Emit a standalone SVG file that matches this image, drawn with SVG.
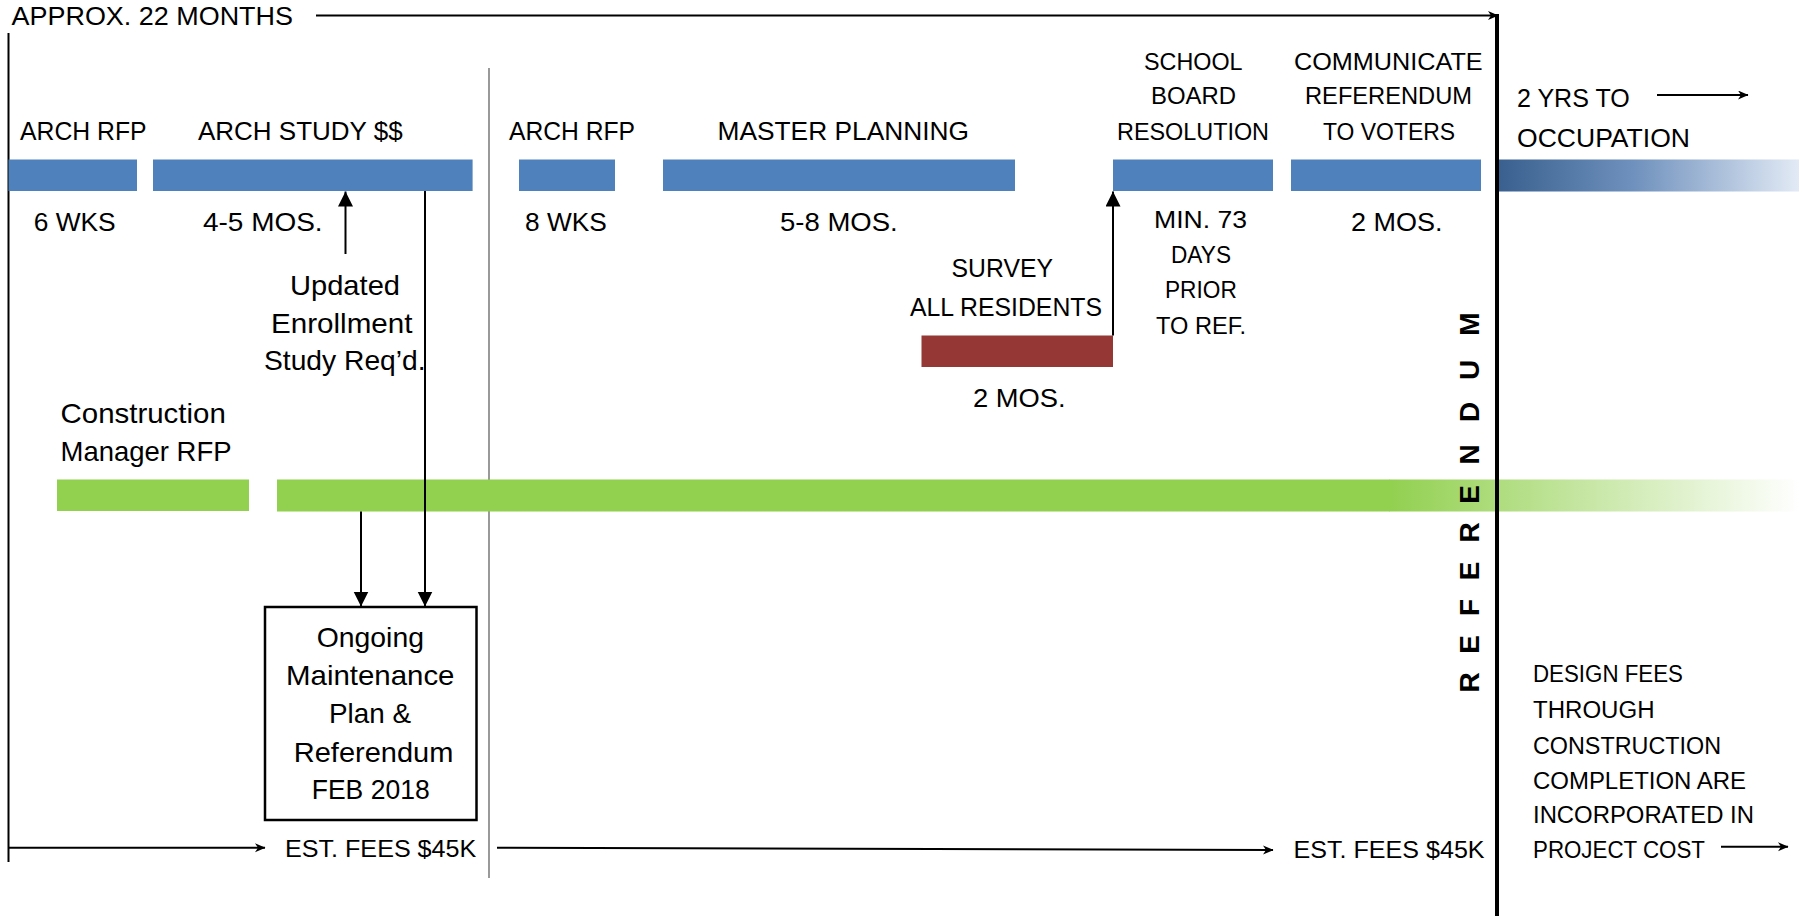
<svg xmlns="http://www.w3.org/2000/svg" width="1799" height="916" viewBox="0 0 1799 916">
<style>
text{font-family:"Liberation Sans",Arial,sans-serif;fill:#000}
.c{font-size:26px}
.s{font-size:24px}
.m{font-size:28px}
.d{font-size:23px}
.v{font-size:28px;font-weight:bold}
.ln{stroke:#000;stroke-width:2;fill:none}
.blue{fill:#4f81bd}
</style>
<defs>
<marker id="sa" markerUnits="userSpaceOnUse" markerWidth="12" markerHeight="10" refX="10" refY="4.5" orient="auto" viewBox="0 0 12 10">
<path d="M0,0 L10.5,4.5 L0,9 L3,4.5 z" fill="#000"/>
</marker>
<marker id="la" markerUnits="userSpaceOnUse" markerWidth="16" markerHeight="16" refX="15" refY="7.5" orient="auto" viewBox="0 0 16 16">
<path d="M0,0 L15,7.5 L0,15 z" fill="#000"/>
</marker>
<linearGradient id="gb" gradientUnits="userSpaceOnUse" x1="1499" y1="0" x2="1799" y2="0">
<stop offset="0" stop-color="#39608f"/>
<stop offset="0.45" stop-color="#6f91bd"/>
<stop offset="1" stop-color="#e2eaf5"/>
</linearGradient>
<linearGradient id="gg" gradientUnits="userSpaceOnUse" x1="1390" y1="0" x2="1799" y2="0">
<stop offset="0" stop-color="#92d050"/>
<stop offset="1" stop-color="#ffffff"/>
</linearGradient>
</defs>
<rect width="1799" height="916" fill="#fff"/>

<g id="frame">
<line x1="8.5" y1="33" x2="8.5" y2="862" class="ln"/>
<line x1="489" y1="68" x2="489" y2="878" stroke="#808080" stroke-width="1.6"/>
</g>

<g id="header">
<text class="c" x="11.5" y="25" textLength="281.5" lengthAdjust="spacingAndGlyphs">APPROX. 22 MONTHS</text>
</g>

<g id="arch-rfp-1">
<rect class="blue" x="8.5" y="159.5" width="128.5" height="31.5"/>
<text class="c" x="20" y="139.5" textLength="126.6" lengthAdjust="spacingAndGlyphs">ARCH RFP</text>
<text class="c" x="33.7" y="230.5" textLength="82" lengthAdjust="spacingAndGlyphs">6 WKS</text>
</g>

<g id="arch-study">
<rect class="blue" x="153" y="159.5" width="319.6" height="31.5"/>
<text class="c" x="198" y="139.5" textLength="204.6" lengthAdjust="spacingAndGlyphs">ARCH STUDY $$</text>
<text class="c" x="203" y="230.5" textLength="119.6" lengthAdjust="spacingAndGlyphs">4-5 MOS.</text>
</g>

<g id="enrollment">
<text class="m" x="290" y="295" textLength="110" lengthAdjust="spacingAndGlyphs">Updated</text>
<text class="m" x="271" y="332.7" textLength="141.5" lengthAdjust="spacingAndGlyphs">Enrollment</text>
<text class="m" x="264" y="370" textLength="161.6" lengthAdjust="spacingAndGlyphs">Study Req’d.</text>
</g>

<g id="arch-rfp-2">
<rect class="blue" x="519" y="159.5" width="96" height="31.5"/>
<text class="c" x="509" y="139.5" textLength="126" lengthAdjust="spacingAndGlyphs">ARCH RFP</text>
<text class="c" x="525" y="230.5" textLength="81.7" lengthAdjust="spacingAndGlyphs">8 WKS</text>
</g>

<g id="master-planning">
<rect class="blue" x="663" y="159.5" width="352" height="31.5"/>
<text class="c" x="717.5" y="139.5" textLength="251.5" lengthAdjust="spacingAndGlyphs">MASTER PLANNING</text>
<text class="c" x="780" y="230.5" textLength="117.7" lengthAdjust="spacingAndGlyphs">5-8 MOS.</text>
</g>

<g id="survey">
<rect x="921.5" y="335.5" width="191.5" height="31.5" fill="#953735"/>
<text class="c" x="951.6" y="276.7" textLength="101.4" lengthAdjust="spacingAndGlyphs">SURVEY</text>
<text class="c" x="910" y="316" textLength="192" lengthAdjust="spacingAndGlyphs">ALL RESIDENTS</text>
<text class="c" x="973" y="406.7" textLength="92.6" lengthAdjust="spacingAndGlyphs">2 MOS.</text>
</g>

<g id="school-board">
<rect class="blue" x="1113" y="159.5" width="160" height="31.5"/>
<text class="s" x="1144" y="70" textLength="98.5" lengthAdjust="spacingAndGlyphs">SCHOOL</text>
<text class="s" x="1151" y="104" textLength="85" lengthAdjust="spacingAndGlyphs">BOARD</text>
<text class="s" x="1117" y="139.5" textLength="152" lengthAdjust="spacingAndGlyphs">RESOLUTION</text>
<text class="s" x="1154" y="228" textLength="93" lengthAdjust="spacingAndGlyphs">MIN. 73</text>
<text class="s" x="1171" y="263" textLength="60" lengthAdjust="spacingAndGlyphs">DAYS</text>
<text class="s" x="1165" y="298" textLength="71.8" lengthAdjust="spacingAndGlyphs">PRIOR</text>
<text class="s" x="1156" y="334" textLength="90" lengthAdjust="spacingAndGlyphs">TO REF.</text>
</g>

<g id="communicate">
<rect class="blue" x="1291" y="159.5" width="190" height="31.5"/>
<text class="s" x="1294" y="70" textLength="188.7" lengthAdjust="spacingAndGlyphs">COMMUNICATE</text>
<text class="s" x="1305" y="104" textLength="167" lengthAdjust="spacingAndGlyphs">REFERENDUM</text>
<text class="s" x="1323" y="139.5" textLength="132" lengthAdjust="spacingAndGlyphs">TO VOTERS</text>
<text class="c" x="1351" y="230.5" textLength="91.5" lengthAdjust="spacingAndGlyphs">2 MOS.</text>
</g>

<g id="occupation">
<rect x="1499" y="159.5" width="300" height="32" fill="url(#gb)"/>
<text class="c" x="1517" y="107" textLength="112.7" lengthAdjust="spacingAndGlyphs">2 YRS TO</text>
<text class="c" x="1517" y="146.7" textLength="173" lengthAdjust="spacingAndGlyphs">OCCUPATION</text>
</g>

<g id="construction-manager">
<rect x="57" y="479.5" width="192" height="31.5" fill="#92d050"/>
<rect x="277" y="479.5" width="1113" height="32" fill="#92d050"/>
<rect x="1389.5" y="479.5" width="409.5" height="32" fill="url(#gg)"/>
<text class="m" x="60.5" y="422.7" textLength="165.3" lengthAdjust="spacingAndGlyphs">Construction</text>
<text class="m" x="60.5" y="460.7" textLength="171" lengthAdjust="spacingAndGlyphs">Manager RFP</text>
</g>

<g id="maintenance-plan">
<rect x="265" y="607" width="211.5" height="213" fill="#fff" stroke="#000" stroke-width="2.5"/>
<text class="m" x="316.7" y="646.7" textLength="107.3" lengthAdjust="spacingAndGlyphs">Ongoing</text>
<text class="m" x="286" y="685" textLength="168.5" lengthAdjust="spacingAndGlyphs">Maintenance</text>
<text class="m" x="329" y="722.7" textLength="82" lengthAdjust="spacingAndGlyphs">Plan &amp;</text>
<text class="m" x="293.8" y="761.7" textLength="159.5" lengthAdjust="spacingAndGlyphs">Referendum</text>
<text class="m" x="311.7" y="799" textLength="118" lengthAdjust="spacingAndGlyphs">FEB 2018</text>
</g>

<g id="fees">
<text class="s" x="285" y="856.7" textLength="191.3" lengthAdjust="spacingAndGlyphs">EST. FEES $45K</text>
<text class="s" x="1293.6" y="858" textLength="191" lengthAdjust="spacingAndGlyphs">EST. FEES $45K</text>
</g>

<g id="design-fees">
<text class="d" x="1533" y="681.7" textLength="150" lengthAdjust="spacingAndGlyphs">DESIGN FEES</text>
<text class="d" x="1533" y="718.3" textLength="121.5" lengthAdjust="spacingAndGlyphs">THROUGH</text>
<text class="d" x="1533" y="754" textLength="188" lengthAdjust="spacingAndGlyphs">CONSTRUCTION</text>
<text class="d" x="1533" y="789" textLength="213" lengthAdjust="spacingAndGlyphs">COMPLETION ARE</text>
<text class="d" x="1533" y="823.3" textLength="221" lengthAdjust="spacingAndGlyphs">INCORPORATED IN</text>
<text class="d" x="1533" y="858.3" textLength="172" lengthAdjust="spacingAndGlyphs">PROJECT COST</text>
</g>

<g id="referendum">
<line x1="1497" y1="14" x2="1497" y2="916" stroke="#000" stroke-width="4"/>
<text class="v" transform="translate(1479,0) rotate(-90)" text-anchor="middle"><tspan x="-682.5">R</tspan><tspan x="-644.5">E</tspan><tspan x="-607.5">F</tspan><tspan x="-571">E</tspan><tspan x="-532.5">R</tspan><tspan x="-494.5">E</tspan><tspan x="-454.5">N</tspan><tspan x="-412">D</tspan><tspan x="-370">U</tspan><tspan x="-324">M</tspan></text>
</g>

<g id="connectors">
<line x1="316" y1="15.5" x2="1498" y2="15.5" class="ln" marker-end="url(#sa)"/>
<line x1="345.5" y1="254" x2="345.5" y2="191.5" class="ln" marker-end="url(#la)"/>
<line x1="425" y1="191" x2="425" y2="606.5" class="ln" marker-end="url(#la)"/>
<line x1="361" y1="511.5" x2="361" y2="606.5" class="ln" marker-end="url(#la)"/>
<line x1="1113" y1="335.5" x2="1113" y2="191.5" class="ln" marker-end="url(#la)"/>
<line x1="8.5" y1="847.7" x2="265" y2="847.7" class="ln" marker-end="url(#sa)"/>
<line x1="497" y1="847.7" x2="1273" y2="850" class="ln" marker-end="url(#sa)"/>
<line x1="1657" y1="95" x2="1748" y2="95" class="ln" marker-end="url(#sa)"/>
<line x1="1721" y1="846.7" x2="1788" y2="846.7" class="ln" marker-end="url(#sa)"/>
</g>
</svg>
